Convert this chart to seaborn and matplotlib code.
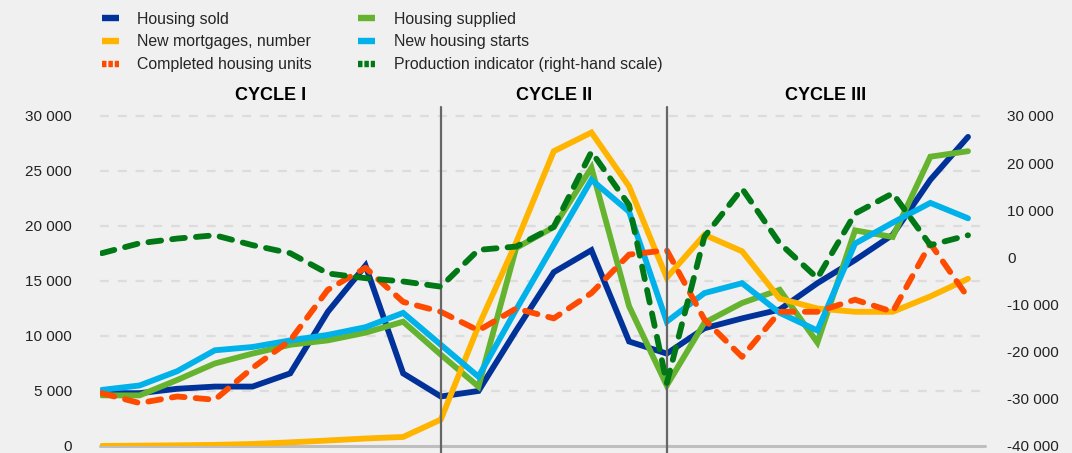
import matplotlib.pyplot as plt
import numpy as np
import pandas as pd
import seaborn as sns
from matplotlib.ticker import FuncFormatter
from matplotlib.lines import Line2D

# Periods (24 observations, no x labels shown in the chart)
periods = list(range(24))

housing_sold = [4800, 4800, 5200, 5400, 5400, 6600, 12200, 16400, 6600, 4500,
                5000, 10500, 15800, 17800, 9500, 8400, 10700, 11600, 12400, 14800,
                16900, 19200, 24200, 28100]
housing_supplied = [4600, 4600, 6000, 7500, 8400, 9200, 9600, 10300, 11300, 8300,
                    5400, 18000, 19900, 25300, 12700, 5500, 11200, 13000, 14200, 9400,
                    19600, 19000, 26300, 26800]
new_mortgages = [0, 30, 60, 100, 180, 330, 500, 680, 820, 2400,
                 10900, 18500, 26800, 28500, 23600, 15300, 19200, 17700, 13400, 12500,
                 12200, 12200, 13600, 15200]
new_starts = [5100, 5500, 6800, 8700, 9000, 9600, 10100, 10800, 12100, 9200,
              6300, 12400, 18300, 24200, 21300, 11300, 13900, 14800, 12100, 10500,
              18400, 20300, 22100, 20700]
completed_units = [4800, 3900, 4500, 4200, 7100, 9600, 14200, 16200, 13100, 12200,
                   10500, 12500, 11600, 13900, 17400, 17800, 11500, 8100, 12200, 12200,
                   13300, 12200, 18400, 13500]
production_indicator = [900, 3000, 4000, 4700, 2600, 900, -3400, -4400, -5100, -6200,
                        1600, 2300, 6500, 22400, 11100, -26700, 4400, 14600, 3000, -4400,
                        9300, 13600, 2600, 4700]

cycle_breaks = [9, 15]
cycle_names = ["CYCLE I", "CYCLE II", "CYCLE III"]

left_ticks = [0, 5000, 10000, 15000, 20000, 25000, 30000]
right_ticks = [-40000, -30000, -20000, -10000, 0, 10000, 20000, 30000]

bg = "#F0F0F0"
sns.set_style("white", {"axes.facecolor": bg, "figure.facecolor": bg})
plt.rcParams["font.family"] = ["Liberation Sans", "DejaVu Sans"]

df = pd.DataFrame({
    "period": periods,
    "Housing sold": housing_sold,
    "Housing supplied": housing_supplied,
    "New mortgages, number": new_mortgages,
    "New housing starts": new_starts,
    "Completed housing units": completed_units,
    "Production indicator (right-hand scale)": production_indicator,
})

colors = {
    "Housing sold": "#003299",
    "Housing supplied": "#65B32E",
    "New mortgages, number": "#FFB400",
    "New housing starts": "#00B1EA",
    "Completed housing units": "#FF4B00",
    "Production indicator (right-hand scale)": "#007816",
}

fig = plt.figure(figsize=(10.72, 4.53), dpi=100)
ax = fig.add_axes([0.0933, 0.0155, 0.9188 - 0.0933, 0.7483])
ax2 = ax.twinx()

lw = 4.2
dash = (2.2, 1.9)

# dashed grid lines
for v in left_ticks[1:]:
    ax.axhline(v, color="#DCDCDC", lw=1.6, ls=(0, (4, 4)), zorder=0)

for name in ["Housing sold", "Housing supplied", "New mortgages, number", "New housing starts"]:
    sns.lineplot(data=df, x="period", y=name, ax=ax, color=colors[name], lw=lw,
                 solid_capstyle="round", solid_joinstyle="miter", zorder=3)
sns.lineplot(data=df, x="period", y="Completed housing units", ax=ax,
             color=colors["Completed housing units"], lw=lw, zorder=4)
ax.lines[-1].set_dashes(dash)
ax.lines[-1].set_dash_capstyle("round")

sns.lineplot(data=df, x="period", y="Production indicator (right-hand scale)", ax=ax2,
             color=colors["Production indicator (right-hand scale)"], lw=lw, zorder=5)
ax2.lines[-1].set_dashes(dash)
ax2.lines[-1].set_dash_capstyle("round")

for b in cycle_breaks:
    ax.axvline(b, ymin=-0.02, ymax=1, color="#666666", lw=1.6, zorder=6, clip_on=False)

xmin, xmax = -0.05, 23.45
ax.set_xlim(xmin, xmax)
ax.set_ylim(0, 30818)
ax2.set_ylim(-40000, 31909)

bounds = [xmin] + cycle_breaks + [xmax]
for i, name in enumerate(cycle_names):
    ax.text((bounds[i] + bounds[i + 1]) / 2, 1.035, name,
            transform=ax.get_xaxis_transform(), ha="center", va="center",
            fontsize=13, fontweight="bold", color="black")

fmt = FuncFormatter(lambda v, p: f"{v:,.0f}".replace(",", " ").replace("\u2212", "-"))
ax.set_yticks(left_ticks)
ax2.set_yticks(right_ticks)
ax.yaxis.set_major_formatter(fmt)
ax2.yaxis.set_major_formatter(fmt)
ax.tick_params(axis="y", length=0, pad=20, labelsize=11, colors="#222222")
ax2.tick_params(axis="y", length=0, pad=16, labelsize=11, colors="#222222")
ax.set_xticks([])
ax.set_xlabel("")
ax.set_ylabel("")
ax2.set_ylabel("")

for a in (ax, ax2):
    for s in ["left", "right", "top", "bottom"]:
        a.spines[s].set_visible(False)
ax.axhline(0, color="#BEBEBE", lw=2.2, zorder=1, clip_on=False)
ax2.patch.set_visible(False)

# legend
order = ["Housing sold", "New mortgages, number", "Completed housing units",
         "Housing supplied", "New housing starts", "Production indicator (right-hand scale)"]
handles = []
for name in order:
    if name in ("Completed housing units", "Production indicator (right-hand scale)"):
        h = Line2D([], [], color=colors[name], lw=4.6, dashes=(0.7, 0.3),
                   dash_capstyle="butt")
    else:
        h = Line2D([], [], color=colors[name], lw=4.6, solid_capstyle="butt")
    handles.append(h)
fig.legend(handles, order, loc="upper left", bbox_to_anchor=(0.0815, 1.006), ncol=2,
           frameon=False, fontsize=11.4, handlelength=1.11, handletextpad=1.14,
           columnspacing=2.9, labelspacing=0.49)

fig.savefig("out.png", dpi=100, facecolor=bg)
